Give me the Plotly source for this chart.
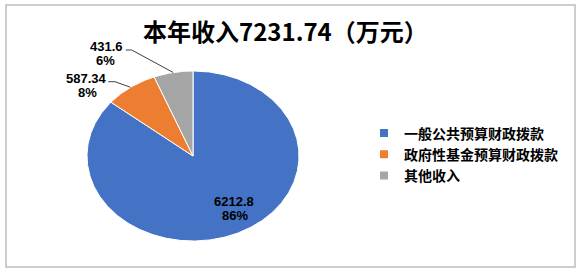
import numpy as np
import plotly.graph_objects as go

# ---- data ----
categories = ["一般公共预算财政拨款", "政府性基金预算财政拨款", "其他收入"]
values = [6212.8, 587.34, 431.6]
colors = ["#4472C4", "#ED7D31", "#A5A5A5"]
title_text = "本年收入7231.74（万元）"

# ---- layout geometry (pixels) ----
W, H = 582, 273
CX, CY, RX, RY = 193, 156, 106, 85
CJK = "Noto Sans CJK SC"
NUM = "Liberation Sans"

# label placement per slice: (value line centre, pct line centre, leader stub or None)
label_pos = [
    ((233.7, 201.7), (235.0, 215.5), None),
    ((86.4, 78.3), (87.0, 92.3), ((108.3, 81.7), (115.0, 81.7))),
    ((106.7, 46.7), (105.8, 60.5), ((125.7, 50.0), (131.7, 50.0))),
]

total = sum(values)
fracs = [v / total for v in values]

fig = go.Figure()
annotations = []
shapes = []
cum = 0.0
for i, (cat, v, f, c) in enumerate(zip(categories, values, fracs, colors)):
    t0, t1 = cum * 2 * np.pi, (cum + f) * 2 * np.pi
    th = np.linspace(t0, t1, max(int(f * 600), 12))
    xs = [CX] + list(CX + RX * np.sin(th)) + [CX]
    ys = [CY] + list(CY - RY * np.cos(th)) + [CY]
    fig.add_trace(go.Scatter(x=xs, y=ys, fill="toself", fillcolor=c, mode="lines",
                             line=dict(color="white", width=1), showlegend=False,
                             hoverinfo="skip"))
    fig.add_trace(go.Scatter(x=[None], y=[None], mode="markers", name=cat,
                             marker=dict(symbol="square", size=8, color=c)))
    (vx, vy), (px, py), stub = label_pos[i]
    pct = round(f * 100)
    annotations.append(dict(x=vx, y=vy, text=f"{v:g}", showarrow=False,
                            font=dict(family=NUM, size=13, color="black", weight="bold"),
                            xanchor="center", yanchor="middle"))
    annotations.append(dict(x=px, y=py, text=f"{pct}%", showarrow=False,
                            font=dict(family=NUM, size=13, color="black", weight="bold"),
                            xanchor="center", yanchor="middle"))
    if stub is not None:
        tm = (t0 + t1) / 2
        ex, ey = CX + RX * np.sin(tm), CY - RY * np.cos(tm)
        (sx0, sy0), (sx1, sy1) = stub
        shapes.append(dict(type="path", xref="x", yref="y",
                           path=f"M{sx0},{sy0} L{sx1},{sy1} L{ex:.2f},{ey:.2f}",
                           line=dict(color="#404040", width=1)))
    cum += f

annotations.append(dict(x=285, y=30, text=title_text, showarrow=False,
                        font=dict(family=CJK, size=24, color="black", weight="bold"),
                        xanchor="center", yanchor="middle"))

shapes.append(dict(type="rect", xref="x", yref="y", x0=6, y0=5, x1=575, y1=267,
                   line=dict(color="#BDBDBD", width=1.5), fillcolor="rgba(0,0,0,0)"))

fig.update_layout(
    width=W, height=H, margin=dict(l=0, r=0, t=0, b=0),
    paper_bgcolor="white", plot_bgcolor="white",
    xaxis=dict(range=[0, W], visible=False, fixedrange=True),
    yaxis=dict(range=[H, 0], visible=False, fixedrange=True),
    showlegend=True,
    legend=dict(x=364 / W, xanchor="left", y=1 - 154.5 / H, yanchor="middle",
                font=dict(family=CJK, size=14, color="black", weight="bold"),
                bgcolor="rgba(0,0,0,0)", borderwidth=0),
    annotations=annotations, shapes=shapes,
)

fig.write_html("out.html")
